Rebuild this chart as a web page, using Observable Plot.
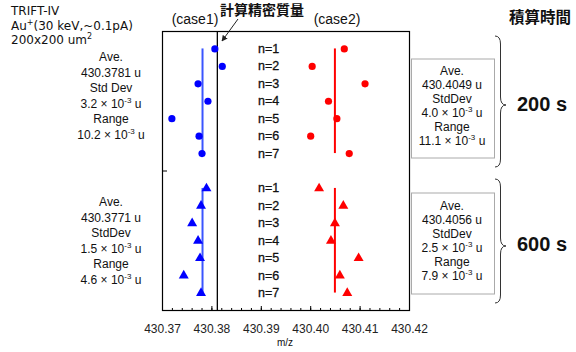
<!DOCTYPE html>
<html><head><meta charset="utf-8">
<script src="https://cdn.jsdelivr.net/npm/d3@7"></script>
<script src="https://cdn.jsdelivr.net/npm/@observablehq/plot@0.6"></script>
<style>
body{margin:0;background:#fff;}
svg{font-family:"Liberation Sans",Arial,sans-serif;}
</style>
</head><body>
<div id="chart"></div>
<script>
// ---- data ----
const rows = [1, 2, 3, 4, 5, 6, 7];
const rowLabels = ["n=1", "n=2", "n=3", "n=4", "n=5", "n=6", "n=7"];
const groups = ["200 s", "600 s"];
const groupOffset = [0, 8];
const case1_200 = [430.3806, 430.3821, 430.3772, 430.3792, 430.3719, 430.3774, 430.3780];
const case2_200 = [430.4068, 430.4003, 430.4110, 430.4036, 430.4053, 430.4000, 430.4078];
const case1_600 = [430.3789, 430.3778, 430.3760, 430.3772, 430.3776, 430.3743, 430.3778];
const case2_600 = [430.4017, 430.4066, 430.4049, 430.4041, 430.4097, 430.4059, 430.4074];
const avgLineCase1 = [430.3781, 430.3781];
const avgLineCase2 = [430.4049, 430.4049];
const exactMass = 430.3811;
const xTicks = [430.37, 430.38, 430.39, 430.40, 430.41, 430.42];
const aveCase1 = ["430.3781", "430.3771"];
const sdLabelCase1 = ["Std Dev", "StdDev"];
const sdCase1 = ["3.2", "1.5"];
const rangeCase1 = ["10.2", "4.6"];
const aveCase2 = ["430.4049", "430.4056"];
const sdCase2 = ["4.0", "2.5"];
const rangeCase2 = ["11.1", "7.9"];

// ---- tables ----
const pts = [];
[[case1_200, case2_200], [case1_600, case2_600]].forEach(([c1, c2], g) => {
  rows.forEach((r, i) => {
    pts.push({x: c1[i], y: r + groupOffset[g], series: "case1", g});
    pts.push({x: c2[i], y: r + groupOffset[g], series: "case2", g});
  });
});
const labels = [];
groupOffset.forEach(o => rows.forEach((r, i) => labels.push({y: r + o, t: rowLabels[i]})));
const avgRules = [];
groupOffset.forEach((o, g) => {
  avgRules.push({x: avgLineCase1[g], y1: rows[0] + o, y2: rows[rows.length - 1] + o, c: "#3a55ff"});
  avgRules.push({x: avgLineCase2[g], y1: rows[0] + o, y2: rows[rows.length - 1] + o, c: "#ff0000"});
});
const minor = d3.range(0, 26).map(i => +(430.37 + i * 0.002).toFixed(3));

const W = 576, H = 352;
const svg = Plot.plot({
  width: W, height: H,
  marginLeft: 162, marginRight: 167, marginTop: 31, marginBottom: 42,
  style: {fontFamily: "Liberation Sans, Arial, sans-serif", background: "white"},
  x: {domain: [430.37, 430.42], label: null},
  y: {domain: [0, 16], reverse: true, axis: null},
  marks: [
    Plot.axisX({ticks: minor, tickSize: -2, tickFormat: () => "", stroke: "black", label: null}),
    Plot.axisX({ticks: xTicks, tickSize: -4, tickPadding: 18, tickFormat: d => d.toFixed(2), fontSize: 12, fill: "#222", stroke: "black", label: null}),
    Plot.axisY({ticks: [8], tickSize: -5, tickFormat: () => "", stroke: "black", label: null}),
    Plot.ruleX([exactMass], {stroke: "black", strokeWidth: 1.3}),
    Plot.ruleX(avgRules, {x: "x", y1: "y1", y2: "y2", stroke: "c", strokeWidth: 2}),
    Plot.text(labels, {x: 430.3915, y: "y", text: "t", fontSize: 12.5, fill: "#111", stroke: "#111", strokeWidth: 0.3}),
    Plot.dot(pts.filter(d => d.g === 0), {x: "x", y: "y", r: 3.6, fill: d => d.series === "case1" ? "#0000ff" : "#ff0000", stroke: null, symbol: "circle"}),
    Plot.dot(pts.filter(d => d.g === 1), {x: "x", y: "y", r: 3.7, fill: d => d.series === "case1" ? "#0000ff" : "#ff0000", stroke: null, symbol: "triangle"}),
    Plot.frame({stroke: "black", strokeWidth: 1.2})
  ]
});
document.getElementById("chart").appendChild(svg);

// ---- annotations ----
const s = d3.select(svg);
const ann = s.append("g").attr("fill", "#111");
function txt(x, y, t, opts = {}) {
  const e = ann.append("text").attr("x", x).attr("y", y).attr("dominant-baseline", "middle")
    .attr("text-anchor", opts.anchor || "middle").attr("font-size", opts.size || 12)
    .attr("font-weight", opts.weight || "normal").text(t);
  if (opts.family) e.attr("font-family", opts.family);
  return e;
}
function sci(x, y, mant, unit) {
  const e = ann.append("text").attr("x", x).attr("y", y).attr("dominant-baseline", "middle")
    .attr("text-anchor", "middle").attr("font-size", 12);
  e.append("tspan").text(mant + " \u00d7 10");
  e.append("tspan").attr("font-size", 8).attr("dy", -4).text("-3");
  e.append("tspan").attr("dy", 4).text(unit ? " u" : "");
}
// title block
const TF = "DejaVu Sans";
txt(11, 11, "TRIFT-IV", {anchor: "start", size: 12, family: TF});
const l2 = ann.append("text").attr("x", 11).attr("y", 25.5).attr("dominant-baseline", "middle")
  .attr("text-anchor", "start").attr("font-size", 12).attr("font-family", TF);
l2.append("tspan").text("Au");
l2.append("tspan").attr("font-size", 8).attr("dy", -4).text("+");
l2.append("tspan").attr("dy", 4).text("(30 keV,~0.1pA)");
const l3 = ann.append("text").attr("x", 11).attr("y", 40).attr("dominant-baseline", "middle")
  .attr("text-anchor", "start").attr("font-size", 12).attr("font-family", TF);
l3.append("tspan").text("200x200 um");
l3.append("tspan").attr("font-size", 8).attr("dy", -4).text("2");

// header labels
txt(195, 20, "(case1)", {size: 14});
txt(337, 20, "(case2)", {size: 14});
txt(262, 11, "計算精密質量", {size: 14, weight: "bold", family: "Noto Sans CJK JP"});
txt(540, 19, "積算時間", {size: 15.5, weight: "bold", family: "Noto Sans CJK JP"});
// arrow
const defs = s.append("defs");
defs.append("marker").attr("id", "ah").attr("viewBox", "0 0 10 10").attr("refX", 9).attr("refY", 5)
  .attr("markerWidth", 6).attr("markerHeight", 6).attr("orient", "auto")
  .append("path").attr("d", "M0,0 L10,5 L0,10 z").attr("fill", "#222");
s.append("line").attr("x1", 238).attr("y1", 19).attr("x2", 222).attr("y2", 41)
  .attr("stroke", "#222").attr("stroke-width", 1).attr("marker-end", "url(#ah)");

// left stats (case1)
[58, 203].forEach((y0, g) => {
  const dy = 15.5;
  txt(111, y0, "Ave.");
  txt(111, y0 + dy, aveCase1[g] + " u");
  txt(111, y0 + 2 * dy, sdLabelCase1[g]);
  sci(111, y0 + 3 * dy, sdCase1[g], true);
  txt(111, y0 + 4 * dy, "Range");
  sci(111, y0 + 5 * dy, rangeCase1[g], true);
});
// right stats (case2)
[[59, 158, 71.7], [193, 294, 206.7]].forEach(([t, b, y0], g) => {
  s.append("rect").attr("x", 411.5).attr("y", t).attr("width", 83).attr("height", b - t)
    .attr("fill", "none").attr("stroke", "#aaa").attr("stroke-width", 1);
  const dy = 14;
  txt(452, y0, "Ave.");
  txt(452, y0 + dy, aveCase2[g] + " u");
  txt(452, y0 + 2 * dy, "StdDev");
  sci(452, y0 + 3 * dy, sdCase2[g], true);
  txt(452, y0 + 4 * dy, "Range");
  sci(452, y0 + 5 * dy, rangeCase2[g], true);
});
// braces
function brace(x0, x1, yt, yb, ym) {
  const xm = (x0 + x1) / 2;
  const r = 4;
  const d = `M${x0},${yt} Q${xm},${yt} ${xm},${yt + r * 2} L${xm},${ym - r * 2} Q${xm},${ym} ${x1},${ym} ` +
            `Q${xm},${ym} ${xm},${ym + r * 2} L${xm},${yb - r * 2} Q${xm},${yb} ${x0},${yb}`;
  s.append("path").attr("d", d).attr("fill", "none").attr("stroke", "#333").attr("stroke-width", 1);
}
brace(495, 506, 36, 167, 105);
brace(495, 506, 179, 303, 246);
txt(542, 106, groups[0], {size: 20, weight: "bold"});
txt(542, 246, groups[1], {size: 20, weight: "bold"});
// x label
txt(285, 343, "m/z", {size: 10});
</script>
</body></html>
